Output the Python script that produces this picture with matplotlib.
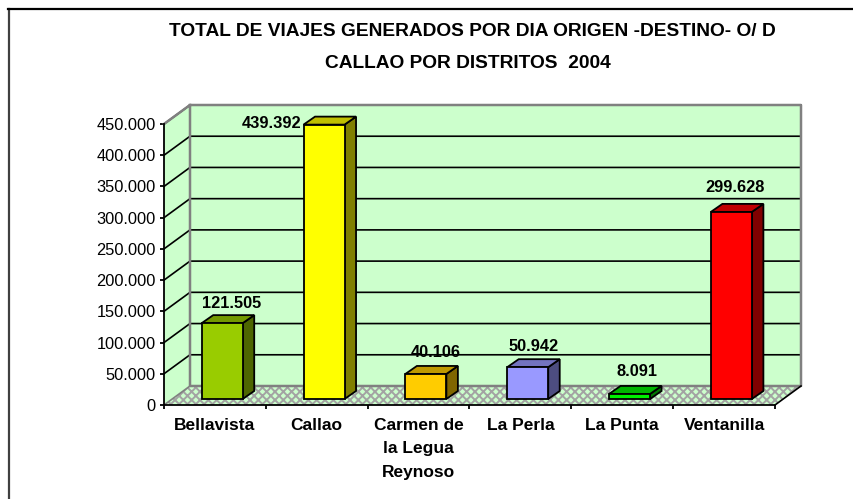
import matplotlib
matplotlib.use("Agg")
import matplotlib.pyplot as plt
from matplotlib.patches import Polygon
from matplotlib.lines import Line2D

plt.rcParams['font.family'] = ['Liberation Sans', 'DejaVu Sans']
plt.rcParams['hatch.linewidth'] = 1.4

categories = ["Bellavista", "Callao", "Carmen de\nla Legua\nReynoso", "La Perla", "La Punta", "Ventanilla"]
values = [121505, 439392, 40106, 50942, 8091, 299628]
value_labels = ["121.505", "439.392", "40.106", "50.942", "8.091", "299.628"]
bar_colors = ["#99CC00", "#FFFF00", "#FFCC00", "#9999FF", "#00F000", "#FF0000"]
y_ticks = [0, 50000, 100000, 150000, 200000, 250000, 300000, 350000, 400000, 450000]
y_tick_labels = ["0", "50.000", "100.000", "150.000", "200.000", "250.000", "300.000", "350.000", "400.000", "450.000"]
# pixel offset of each value label centre from the bar's front-top centre
label_offsets = [(9, 20), (-52, 1), (10, 21), (6, 21), (7, 22), (4, 24)]
title_lines = ["TOTAL DE VIAJES GENERADOS POR DIA ORIGEN -DESTINO- O/ D",
               "CALLAO POR DISTRITOS  2004"]

W, H = 854, 499
fig = plt.figure(figsize=(W / 100, H / 100), dpi=100, facecolor="white")
L, R, T, B = 164, 775, 124, 405
ax = fig.add_axes([L / W, 1 - B / H, (R - L) / W, (B - T) / H])
ax.set_xlim(0, len(categories))
ax.set_ylim(0, 450000)
ax.patch.set_alpha(0)

ux = (R - L) / len(categories)      # px per category
uy = (B - T) / 450000               # px per value unit
def dx(p): return p / ux
def dy(p): return p / uy

n = len(categories)
ymax = 450000
WALL = "#CCFFCC"
DX, DY = dx(26), dy(19)
# walls
ax.add_patch(Polygon([(DX, DY), (n + DX, DY), (n + DX, ymax + DY), (DX, ymax + DY)],
                     fc=WALL, ec="none", zorder=1, clip_on=False))
ax.add_patch(Polygon([(0, 0), (DX, DY), (DX, ymax + DY), (0, ymax)],
                     fc=WALL, ec="none", zorder=1, clip_on=False))
ax.add_patch(Polygon([(0, 0), (n, 0), (n + DX, DY), (DX, DY)],
                     fc=WALL, ec="#A3A3A3", lw=0, hatch="xxxx", zorder=1, clip_on=False))
# gridlines
for v in y_ticks[1:]:
    ax.plot([0, DX, n + DX], [v, v + DY, v + DY], color="black", lw=1.2, zorder=2,
            clip_on=False, solid_joinstyle="miter")
# wall borders
G = "#808080"
ax.plot([0, DX, n + DX, n + DX, DX, DX], [ymax, ymax + DY, ymax + DY, DY, DY, ymax + DY],
        color=G, lw=1.8, zorder=2.5, clip_on=False)
ax.plot([0, DX], [0, DY], color=G, lw=1.2, zorder=2.5, clip_on=False)
ax.plot([n, n + DX], [0, DY], color="black", lw=1.2, zorder=2.5, clip_on=False)

# bars
x_shift, base = dx(7.3), dy(6)
bw = dx(41)
bdx, bdy = dx(11.5), dy(8)
def shade(c, f):
    r, g, b = matplotlib.colors.to_rgb(c)
    return (r * f, g * f, b * f)
xs = [i + 0.5 + x_shift for i in range(n)]
ax.bar(xs, values, width=bw, bottom=base, color=bar_colors, edgecolor="black",
       linewidth=1.3, zorder=5, clip_on=False)
for x, v, c, lab, off in zip(xs, values, bar_colors, value_labels, label_offsets):
    l, r = x - bw / 2, x + bw / 2
    t = base + v
    ax.add_patch(Polygon([(r, base), (r + bdx, base + bdy), (r + bdx, t + bdy), (r, t)],
                         fc=shade(c, 0.5), ec="black", lw=1.3, zorder=4, clip_on=False))
    ax.add_patch(Polygon([(l, t), (l + bdx, t + bdy), (r + bdx, t + bdy), (r, t)],
                         fc=shade(c, 0.75), ec="black", lw=1.3, zorder=4, clip_on=False))
    ax.annotate(lab, (x, t), xytext=(off[0] * 0.72, off[1] * 0.72), textcoords="offset points",
                ha="center", va="center", fontsize=11.8, fontweight="bold", zorder=6,
                annotation_clip=False)

# axes
for s in ("top", "right"):
    ax.spines[s].set_visible(False)
for s in ("left", "bottom"):
    ax.spines[s].set_linewidth(1.3)
    ax.spines[s].set_zorder(3)
ax.set_yticks(y_ticks)
ax.set_yticklabels(y_tick_labels, fontsize=11.8)
ax.set_xticks(range(n + 1))
ax.set_xticklabels([])
ax.set_xticks([i + 0.5 for i in range(n)], minor=True)
ax.set_xticklabels(categories, minor=True, fontsize=12.5, fontweight="bold", linespacing=1.72)
ax.tick_params(axis="x", which="minor", length=0, pad=9)
ax.tick_params(axis="both", which="major", length=2.6, width=1.3)
ax.tick_params(axis="y", pad=3.4)

# title
fig.text(472 / W, 1 - 31 / H, title_lines[0], ha="center", va="center", fontsize=13.8, fontweight="bold")
fig.text(468 / W, 1 - 64 / H, title_lines[1], ha="center", va="center", fontsize=13.8, fontweight="bold")

# frame
fig.add_artist(Line2D([8.5 / W, 8.5 / W], [0, 1 - 9 / H], color="#404040", lw=1.6))
fig.add_artist(Line2D([8 / W, 1], [1 - 9 / H, 1 - 9 / H], color="black", lw=1.6))

fig.savefig("out.png", dpi=100)
